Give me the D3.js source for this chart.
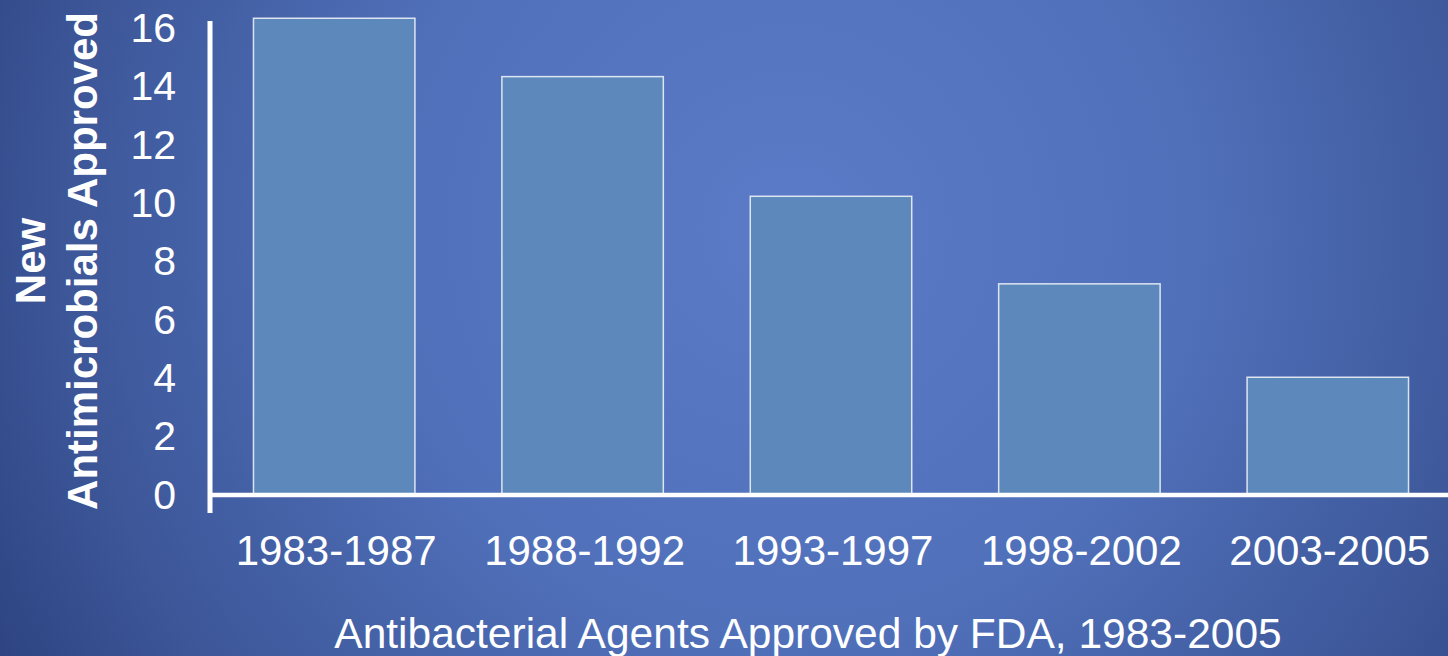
<!DOCTYPE html>
<html>
<head>
<meta charset="utf-8">
<script src="https://d3js.org/d3.v7.min.js"></script>
<style>
  body { margin: 0; overflow: hidden; }
  text { font-family: "Liberation Sans", Arial, sans-serif; fill: #fff; }
</style>
</head>
<body>
<script>
// values
var periods = ["1983-1987", "1988-1992", "1993-1997", "1998-2002", "2003-2005"];
var approved = [16.3, 14.3, 10.2, 7.2, 4.0];
var yTicks = [0, 2, 4, 6, 8, 10, 12, 14, 16];

var W = 1448, H = 656;

var svg = d3.select("body").append("svg")
  .attr("width", W)
  .attr("height", H);

// background: blue radial gradient like the slide
var grad = svg.append("defs").append("radialGradient")
  .attr("id", "bg")
  .attr("gradientUnits", "userSpaceOnUse")
  .attr("cx", 790).attr("cy", 230).attr("r", 900);
grad.append("stop").attr("offset", 0).attr("stop-color", "#5b7bc8");
grad.append("stop").attr("offset", 0.45).attr("stop-color", "#5070ba");
grad.append("stop").attr("offset", 0.8).attr("stop-color", "#3d5799");
grad.append("stop").attr("offset", 1).attr("stop-color", "#2e4482");

svg.append("rect")
  .attr("width", W).attr("height", H)
  .attr("fill", "url(#bg)");

var x = d3.scaleBand()
  .domain(periods)
  .range([210, 1452])
  .paddingInner(0.35)
  .paddingOuter(0.175);

var y = d3.scaleLinear()
  .domain([0, 16])
  .range([494, 27]);

// bars
svg.selectAll("rect.bar")
  .data(approved)
  .enter().append("rect")
  .attr("class", "bar")
  .attr("x", function(d, i) { return x(periods[i]); })
  .attr("width", x.bandwidth())
  .attr("y", function(d) { return y(d); })
  .attr("height", function(d) { return y(0) - y(d); })
  .attr("fill", "#5c88bc")
  .attr("stroke", "rgba(255,255,255,0.8)")
  .attr("stroke-width", 1.5);

// axis lines (drawn by hand, thick white)
svg.append("line")
  .attr("x1", 210).attr("x2", 210)
  .attr("y1", 21).attr("y2", 513)
  .attr("stroke", "#fff").attr("stroke-width", 5);

svg.append("line")
  .attr("x1", 208).attr("x2", W)
  .attr("y1", y(0) + 1).attr("y2", y(0) + 1)
  .attr("stroke", "#fff").attr("stroke-width", 4.5);

// y tick labels
svg.selectAll("text.ytick")
  .data(yTicks)
  .enter().append("text")
  .attr("class", "ytick")
  .attr("x", 176)
  .attr("y", function(d) { return y(d); })
  .attr("dy", "0.36em")
  .attr("text-anchor", "end")
  .style("font-size", "41px")
  .text(function(d) { return d; });

// x tick labels
svg.selectAll("text.xtick")
  .data(periods)
  .enter().append("text")
  .attr("class", "xtick")
  .attr("x", function(d) { return x(d) + x.bandwidth() / 2 + 2; })
  .attr("y", 565)
  .attr("text-anchor", "middle")
  .style("font-size", "42px")
  .text(function(d) { return d; });

// x title
svg.append("text")
  .attr("x", 808)
  .attr("y", 648)
  .attr("text-anchor", "middle")
  .style("font-size", "42.5px")
  .text("Antibacterial Agents Approved by FDA, 1983-2005");

// y title, two lines, rotated
var yt = svg.append("text")
  .attr("transform", "translate(0,261) rotate(-90)")
  .attr("text-anchor", "middle")
  .style("font-size", "42px")
  .style("font-weight", "bold");
yt.append("tspan").attr("x", 0).attr("y", 45).text("New");
yt.append("tspan").attr("x", 0).attr("y", 97).text("Antimicrobials Approved");
</script>
</body>
</html>
